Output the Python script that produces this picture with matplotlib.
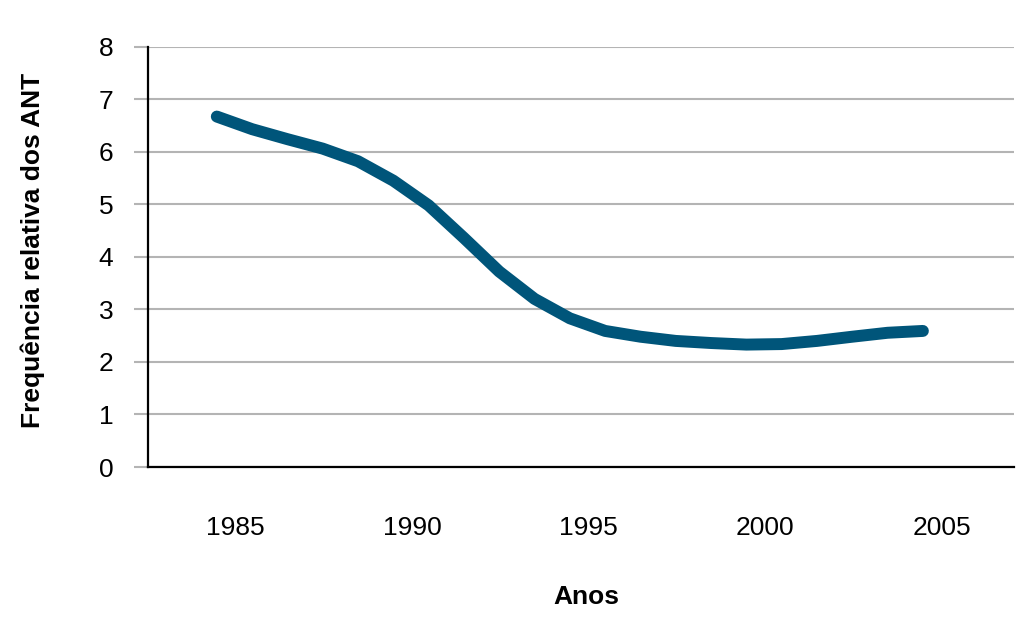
import matplotlib
matplotlib.use('Agg')
import matplotlib.pyplot as plt
import matplotlib.transforms as mtransforms

# valores, um por ano
anos = list(range(1985, 2006))
frequencia = [6.67, 6.43, 6.24, 6.06, 5.82, 5.45, 4.98, 4.36, 3.72, 3.20, 2.83,
              2.59, 2.48, 2.40, 2.36, 2.33, 2.34, 2.40, 2.48, 2.555, 2.59]
anos_rotulos = [1985, 1990, 1995, 2000, 2005]
y_ticks = [0, 1, 2, 3, 4, 5, 6, 7, 8]

plt.rcParams['font.family'] = ['Liberation Sans', 'DejaVu Sans']

fig = plt.figure(figsize=(10.24, 6.3), dpi=100)
ax = fig.add_axes([0.1445, 0.2587, 0.8457, 0.6672])

ax.plot(anos, frequencia, color='#00557a', linewidth=8.6, solid_capstyle='round',
        solid_joinstyle='round', zorder=3)

ax.set_xlim(1983.05, 2007.58)
ax.set_ylim(0, 8)
ax.set_yticks(y_ticks)
ax.set_xticks(anos_rotulos)
ax.set_xticklabels([str(a) for a in anos_rotulos])

ax.yaxis.grid(True, color='#b4b4b4', linewidth=1.5)
ax.set_axisbelow(True)

for s in ['top', 'right']:
    ax.spines[s].set_visible(False)
ax.spines['left'].set_linewidth(1.6)
ax.spines['bottom'].set_linewidth(1.6)

ax.tick_params(axis='y', length=10, width=1.5, color='#b4b4b4', pad=15, labelsize=19)
ax.tick_params(axis='x', length=0, pad=35, labelsize=19)

# rótulos do eixo x um pouco deslocados para a direita
offset = mtransforms.ScaledTranslation(0.19, 0, fig.dpi_scale_trans)
for lbl in ax.get_xticklabels():
    lbl.set_transform(lbl.get_transform() + offset)

ax.set_ylabel('Frequência relativa dos ANT', fontsize=19, fontweight='bold')
ax.yaxis.label.set_va('center')
ax.yaxis.set_label_coords(-0.133, 0.516)
ax.set_xlabel('Anos', fontsize=19, fontweight='bold')
ax.xaxis.label.set_va('center')
ax.xaxis.set_label_coords(0.506, -0.309)

fig.savefig('out.png', dpi=100, facecolor='white')
